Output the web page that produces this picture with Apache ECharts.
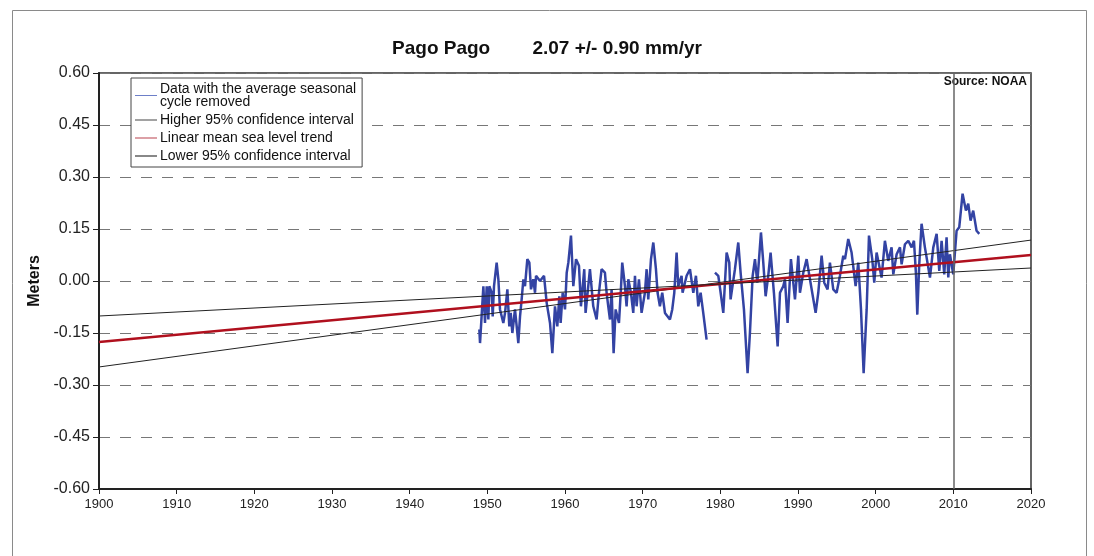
<!DOCTYPE html>
<html>
<head>
<meta charset="utf-8">
<title>Pago Pago sea level</title>
<script src="https://cdn.jsdelivr.net/npm/echarts@6/dist/echarts.min.js"></script>
<style>
  html, body { margin: 0; padding: 0; background: #fff; }
  #chart { width: 1094px; height: 556px; }
</style>
</head>
<body>
<div id="chart"></div>
<script>
// monthly sea level (seasonal cycle removed)
const dataYears = [
  1948.97, 1949.06, 1949.49, 1949.70, 1949.92, 1950.13, 1950.26, 1950.56, 1950.69, 1950.86,
  1951.20, 1951.42, 1951.63, 1952.06, 1952.28, 1952.58, 1952.83, 1953.01, 1953.22, 1953.56,
  1953.78, 1953.99, 1954.21, 1954.42, 1954.64, 1954.85, 1955.15, 1955.41, 1955.62, 1955.92,
  1956.14, 1956.27, 1956.78, 1957.30, 1957.64, 1958.07, 1958.37, 1958.71, 1959.01, 1959.27,
  1959.44, 1959.70, 1960.00, 1960.22, 1960.43, 1960.77, 1961.07, 1961.42, 1961.80, 1962.05,
  1962.48, 1962.65, 1962.91, 1963.21, 1963.64, 1964.07, 1964.37, 1964.71, 1965.14, 1965.36,
  1965.57, 1965.79, 1966.00, 1966.26, 1966.52, 1966.95, 1967.20, 1967.37, 1967.72, 1967.93,
  1968.15, 1968.49, 1968.79, 1969.01, 1969.22, 1969.52, 1969.86, 1970.29, 1970.51, 1970.72,
  1971.07, 1971.37, 1971.71, 1971.92, 1972.22, 1972.52, 1972.87, 1973.51, 1973.81, 1974.07,
  1974.37, 1974.58, 1975.01, 1975.14, 1975.66, 1976.09, 1976.52, 1976.86, 1977.16, 1977.46,
  1977.80, 1978.23, 1978.80, 1979.31, 1979.74, 1980.04, 1980.38, 1980.81, 1981.15, 1981.32,
  1981.88, 1982.31, 1982.61, 1983.04, 1983.51, 1983.81, 1984.16, 1984.46, 1984.76, 1985.23,
  1985.53, 1985.83, 1986.17, 1986.47, 1986.90, 1987.38, 1987.68, 1988.10, 1988.32, 1988.66,
  1989.09, 1989.61, 1990.04, 1990.25, 1990.68, 1991.11, 1991.54, 1992.27, 1992.61, 1993.04,
  1993.38, 1993.81, 1994.11, 1994.54, 1994.97, 1995.40, 1995.83, 1996.05, 1996.47, 1996.90,
  1997.42, 1997.76, 1998.11, 1998.45, 1998.84, 1999.14, 1999.56, 1999.82, 2000.12, 2000.55,
  2000.76, 2001.19, 2001.62, 2002.05, 2002.27, 2002.70, 2003.13, 2003.34, 2003.77, 2004.20,
  2004.63, 2004.93, 2005.19, 2005.36, 2005.61, 2005.91, 2006.34, 2006.99, 2007.42, 2007.85,
  2008.19, 2008.49, 2008.83, 2009.13, 2009.35, 2009.56, 2009.99, 2010.42, 2010.76, 2011.19,
  2011.62, 2011.92, 2012.22, 2012.56, 2012.99, 2013.34
];
const dataValues = [
  -0.140, -0.179, -0.015, -0.121, -0.015, -0.111, -0.015, -0.034, -0.102, -0.015,
  0.053, 0.005, -0.082, -0.121, -0.092, -0.024, -0.131, -0.092, -0.150, -0.082,
  -0.131, -0.179, -0.102, -0.053, 0.005, -0.015, 0.063, 0.053, -0.024, 0.005,
  -0.034, 0.015, 0.000, 0.015, -0.063, -0.121, -0.208, -0.073, -0.131, -0.044,
  -0.121, -0.034, -0.082, 0.024, 0.053, 0.131, -0.015, 0.063, 0.044, -0.073,
  0.034, -0.092, -0.034, 0.034, -0.073, -0.111, -0.034, 0.034, 0.024, -0.034,
  -0.073, -0.111, -0.024, -0.208, -0.082, -0.121, -0.024, 0.053, -0.015, -0.073,
  0.005, -0.034, -0.092, 0.015, -0.073, 0.005, -0.092, -0.034, 0.034, -0.053,
  0.063, 0.111, 0.034, -0.034, -0.073, -0.034, -0.092, -0.111, -0.082, -0.034,
  0.082, -0.015, 0.015, -0.034, 0.015, 0.034, -0.034, 0.015, -0.073, -0.034,
  -0.092, -0.169, null, 0.024, 0.015, -0.034, -0.092, 0.082, 0.053, -0.053,
  0.034, 0.111, 0.024, -0.082, -0.266, -0.150, 0.015, 0.063, -0.005, 0.140,
  0.053, -0.044, 0.015, 0.082, -0.034, -0.189, -0.034, -0.015, 0.005, -0.121,
  0.063, -0.053, 0.073, -0.034, 0.024, 0.063, 0.005, -0.092, -0.034, 0.073,
  -0.005, -0.024, 0.053, -0.024, -0.034, 0.015, 0.073, 0.063, 0.121, 0.082,
  -0.015, 0.053, -0.082, -0.266, -0.082, 0.131, 0.063, -0.005, 0.082, 0.034,
  0.010, 0.116, 0.058, 0.097, 0.019, 0.077, 0.097, 0.048, 0.106, 0.116,
  0.097, 0.116, 0.019, -0.097, 0.048, 0.165, 0.097, 0.010, 0.097, 0.136,
  0.029, 0.116, 0.019, 0.126, 0.010, 0.077, 0.019, 0.145, 0.155, 0.252,
  0.203, 0.223, 0.174, 0.203, 0.145, 0.136
];

// trend lines, end points at 1900 and 2020
const trendYears = [1900, 2020];
const trendValues = [-0.176, 0.075];
const higherValues = [-0.248, 0.118];
const lowerValues = [-0.101, 0.0375];

const yTicks = ["-0.60", "-0.45", "-0.30", "-0.15", "0.00", "0.15", "0.30", "0.45", "0.60"];

const legendNames = [
  "Data with the average seasonal\ncycle removed",
  "Higher 95% confidence interval",
  "Linear mean sea level trend",
  "Lower 95% confidence interval",
];

function pairs(xs, ys) {
  return xs.map((x, i) => [x, ys[i]]);
}

const chart = echarts.init(document.getElementById("chart"));

chart.setOption({
  animation: false,
  textStyle: { fontFamily: "Liberation Sans, Arial, sans-serif" },
  title: {
    text: "Pago Pago        2.07 +/- 0.90 mm/yr",
    left: "center",
    top: 34,
    textStyle: { fontSize: 19, fontWeight: "bold", color: "#111" },
  },
  graphic: [
    {
      type: "rect",
      left: 10,
      top: 8,
      shape: { width: 1074, height: 570 },
      style: { fill: "none", stroke: "#8a8a8a", lineWidth: 1 },
      silent: true,
    },
    {
      type: "text",
      right: 67,
      top: 76,
      style: { text: "Source: NOAA", font: "bold 12px Liberation Sans, Arial, sans-serif", fill: "#111" },
    },
  ],
  legend: {
    orient: "vertical",
    left: 131,
    top: 78,
    padding: [4, 6, 4, 4],
    itemGap: 4,
    itemWidth: 22,
    itemHeight: 1,
    borderColor: "#444",
    borderWidth: 1,
    backgroundColor: "#fff",
    icon: "rect",
    textStyle: { fontSize: 14, lineHeight: 13, color: "#111", padding: [0, 0, 0, -2] },
    data: legendNames,
  },
  grid: {
    left: 99,
    right: 63,
    top: 73,
    bottom: 67,
    show: true,
    borderColor: "#333",
    borderWidth: 1.5,
  },
  xAxis: {
    type: "value",
    min: 1900,
    max: 2020,
    interval: 10,
    axisLine: { onZero: false, lineStyle: { color: "#222", width: 2 } },
    axisTick: { show: true, length: 5, lineStyle: { color: "#222" } },
    axisLabel: { fontSize: 13, color: "#222", margin: 9, formatter: (v) => String(v) },
    splitLine: { show: false },
  },
  yAxis: {
    type: "value",
    min: -0.6,
    max: 0.6,
    interval: 0.15,
    name: "Meters",
    nameLocation: "middle",
    nameGap: 54,
    nameTextStyle: { fontSize: 16, fontWeight: "bold", color: "#111" },
    axisLine: { show: true, lineStyle: { color: "#222", width: 2 } },
    axisTick: { show: true, length: 6, lineStyle: { color: "#222" } },
    axisLabel: {
      fontSize: 16,
      color: "#222",
      margin: 9,
      formatter: (v) => yTicks[Math.round((v + 0.6) / 0.15)],
    },
    splitLine: { show: true, lineStyle: { color: "#777", type: [11, 10], width: 1 } },
  },
  series: [
    {
      name: legendNames[0],
      type: "line",
      data: pairs(dataYears, dataValues),
      showSymbol: false,
      connectNulls: false,
      color: "#6d7fc8",
      lineStyle: { color: "#3343a3", width: 2.5 },
      markLine: {
        silent: true,
        symbol: ["none", "none"],
        label: { show: false },
        lineStyle: { color: "#666", width: 1.5, type: "solid" },
        data: [{ xAxis: 2010 }],
      },
    },
    {
      name: legendNames[1],
      type: "line",
      data: pairs(trendYears, higherValues),
      showSymbol: false,
      color: "#444",
      lineStyle: { color: "#222", width: 1 },
    },
    {
      name: legendNames[2],
      type: "line",
      data: pairs(trendYears, trendValues),
      showSymbol: false,
      color: "#b8404c",
      lineStyle: { color: "#b0101e", width: 2.5 },
    },
    {
      name: legendNames[3],
      type: "line",
      data: pairs(trendYears, lowerValues),
      showSymbol: false,
      color: "#111",
      lineStyle: { color: "#222", width: 1 },
    },
  ],
});
</script>
</body>
</html>
